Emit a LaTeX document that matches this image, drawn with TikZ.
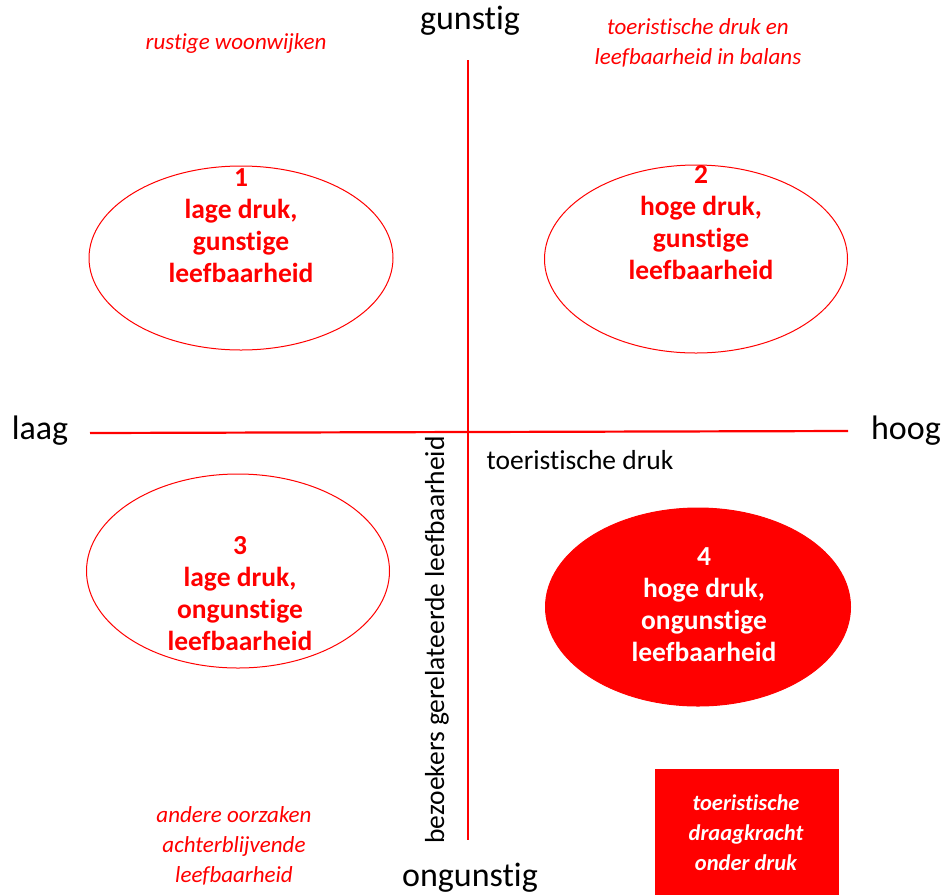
\documentclass[tikz,border=0pt]{standalone}
\usepackage{fontspec}
\setmainfont{Carlito}[Ligatures={NoCommon}]
\usetikzlibrary{shapes.geometric}
\definecolor{pred}{RGB}{255,0,0}
\begin{document}
\begin{tikzpicture}[x=1pt,y=-1pt,
  axis/.style={draw=pred,line width=2.2pt},
  oval/.style={ellipse,draw=pred,line width=1pt,inner sep=0pt},
  ovaltext/.style={align=center,text=pred,font=\fontsize{27.5}{32}\selectfont\bfseries},
  ovalwhite/.style={ovaltext,text=white},
  axlabel/.style={font=\fontsize{34}{40}\selectfont,text=black},
  note/.style={align=center,text=pred,font=\fontsize{23}{30}\selectfont\itshape},
  plain/.style={font=\fontsize{27.5}{30}\selectfont,text=black}]
\useasboundingbox (0,0) rectangle (945,895);
% axes
\coordinate (vt) at (468,60);
\coordinate (vb) at (468,840);
\coordinate (hl) at (90,433);
\coordinate (hr) at (848,431);
\draw[axis] (vt) -- (vb);
\draw[axis] (hl) -- (hr);
% axis labels
\node[axlabel] (gun) at (470,21) {gunstig};
\node[axlabel] (ong) at (470,878) {ongunstig};
\node[axlabel] (laag) at (40,431) {laag};
\node[axlabel] (hoog) at (906,431) {hoog};
\node[plain] (td) at (580,460) {toeristische druk};
\node[plain,rotate=90] (bgl) at (437,640) {bezoekers gerelateerde leefbaarheid};
% ellipses
\node[oval,minimum width=304,minimum height=184] (e1) at (241,258) {};
\node[oval,minimum width=303,minimum height=188] (e2) at (696,259) {};
\node[oval,minimum width=303,minimum height=194] (e3) at (238,571) {};
\node[oval,fill=pred,minimum width=305,minimum height=198] (e4) at (698,607) {};
\node[ovaltext] (t1) at (241,226) {1\\lage druk,\\gunstige\\leefbaarheid};
\node[ovaltext] (t2) at (701,223) {2\\hoge druk,\\gunstige\\leefbaarheid};
\node[ovaltext] (t3) at (240,594) {3\\lage druk,\\ongunstige\\leefbaarheid};
\node[ovalwhite] (t4) at (704,605) {4\\hoge druk,\\ongunstige\\leefbaarheid};
% notes
\node[note] (n1) at (236,43) {rustige woonwijken};
\node[note] (n2) at (698,43) {toeristische druk en\\leefbaarheid in balans};
\node[note] (n3) at (234,846) {andere oorzaken\\achterblijvende\\leefbaarheid};
% box
\node[fill=pred,minimum width=184,minimum height=126,inner sep=0pt] (box) at (746.5,832) {};
\node[note,text=white,font=\fontsize{22.5}{30}\selectfont\bfseries\itshape] (bt) at (746,833) {toeristische\\draagkracht\\onder druk};
\end{tikzpicture}
\end{document}
